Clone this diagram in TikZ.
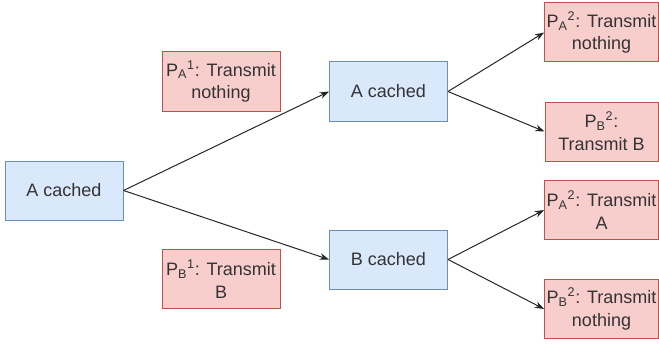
\documentclass[tikz,border=0pt]{standalone}
\usepackage{fontspec}
\setmainfont{Liberation Sans}
\usetikzlibrary{arrows.meta}

\definecolor{cachefill}{HTML}{DAE8FC}
\definecolor{cacheline}{HTML}{6C8EBF}
\definecolor{sendfill}{HTML}{F8CECC}
\definecolor{sendline}{HTML}{B85450}
\definecolor{txt}{HTML}{333333}

\tikzset{
  box/.style={rectangle, line width=0.75pt, align=center, inner sep=1.5pt,
              minimum height=44.25pt, text=txt,
              font=\fontsize{13.5}{17}\selectfont},
  cache/.style={box, draw=cacheline, fill=cachefill, minimum width=88.5pt},
  send/.style={box, draw=sendline, fill=sendfill, minimum width=88.5pt},
  last/.style={send, minimum width=84.75pt},
  link/.style={-{Stealth[length=7pt,width=5pt]}, line width=0.75pt, draw=black!85}
}

\newcommand{\pl}[2]{P\textsubscript{#1}\textsuperscript{#2}}

\begin{document}
\begin{tikzpicture}[x=0.75pt, y=-0.75pt]
    \useasboundingbox (0,0) rectangle (659,346);

    % cache states
    \node[cache] (root) at (64,190.5) {A cached};
    \node[cache] (ca) at (388.5,91.5) {A cached};
    \node[cache] (cb) at (388.5,259.5) {B cached};

    % first round
    \node[send] (pa1) at (221,81.5) {\pl{A}{1}: Transmit\\nothing};
    \node[send] (pb1) at (221,279) {\pl{B}{1}: Transmit\\B};

    % second round
    \node[last] (r1) at (601.5,32.5) {\pl{A}{2}: Transmit\\nothing};
    \node[last] (r2) at (601.5,131.5) {\pl{B}{2}:\\Transmit B};
    \node[last] (r3) at (601.5,210) {\pl{A}{2}: Transmit\\A};
    \node[last] (r4) at (601.5,309) {\pl{B}{2}: Transmit\\nothing};

    \draw[link] (root.east) -- (ca.west);
    \draw[link] (root.east) -- (cb.west);
    \draw[link] (ca.east) -- (r1.west);
    \draw[link] (ca.east) -- (r2.west);
    \draw[link] (cb.east) -- (r3.west);
    \draw[link] (cb.east) -- (r4.west);
\end{tikzpicture}
\end{document}
